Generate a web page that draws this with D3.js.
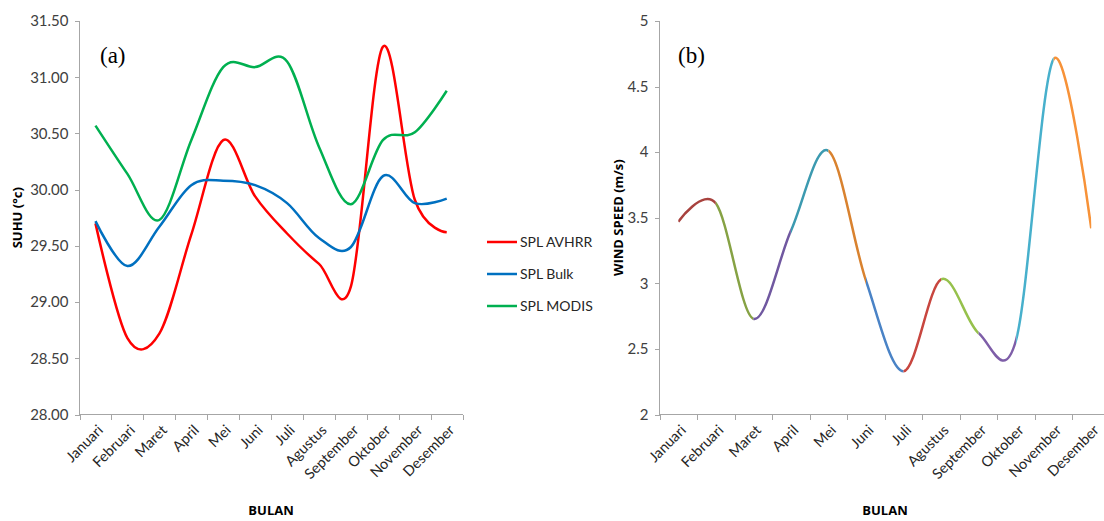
<!DOCTYPE html>
<html>
<head>
<meta charset="utf-8">
<script src="https://cdn.jsdelivr.net/npm/d3@7"></script>
<style>
    body { margin: 0; background: #fff; }
    svg { display: block; }
    .axis path, .axis line { stroke: #a6a6a6; stroke-width: 1px; shape-rendering: crispEdges; }
    .tick-label { font-family: Lato, "Open Sans", sans-serif; font-size: 15px; fill: #404040; }
    .cat-label { font-family: Lato, "Open Sans", sans-serif; font-size: 14.5px; fill: #262626; }
    .axis-title { font-family: "Open Sans", Lato, sans-serif; font-size: 13px; font-weight: bold; fill: #000; }
    .panel-label { font-family: "Liberation Serif", "DejaVu Serif", serif; font-size: 23px; fill: #000; }
    .legend-label { font-family: Lato, "Open Sans", sans-serif; font-size: 14px; fill: #262626; }
</style>
</head>
<body>
<div id="chart"></div>
<script>
// ---- data ----
var months = ["Januari", "Februari", "Maret", "April", "Mei", "Juni", "Juli",
    "Agustus", "September", "Oktober", "November", "Desember"];

var splAvhrr = [29.70, 28.68, 28.72, 29.60, 30.44, 29.94, 29.61, 29.34, 29.14, 31.27, 29.91, 29.62];
var splBulk  = [29.72, 29.32, 29.67, 30.04, 30.08, 30.04, 29.88, 29.57, 29.49, 30.12, 29.88, 29.92];
var splModis = [30.57, 30.14, 29.73, 30.44, 31.09, 31.09, 31.14, 30.38, 29.87, 30.44, 30.51, 30.88];

var windSpeed = [3.47, 3.61, 2.73, 3.40, 4.01, 3.02, 2.33, 3.03, 2.62, 2.57, 4.71, 3.42];

var suhuTicks = [28.0, 28.5, 29.0, 29.5, 30.0, 30.5, 31.0, 31.5];
var windTicks = [2, 2.5, 3, 3.5, 4, 4.5, 5];

var seriesNames = ["SPL AVHRR", "SPL Bulk", "SPL MODIS"];
var seriesColors = ["#ff0000", "#0070c0", "#00b050"];
// excel "vary colours by point" segment colours
var segmentColors = ["#a8423e", "#86a244", "#7058a0", "#3c9ab0", "#d9822f", "#4a83c6",
    "#c8463f", "#96c14c", "#7e5ea8", "#47b0cc", "#f79238"];

var svg = d3.select("#chart").append("svg")
    .attr("width", 1104)
    .attr("height", 521);

var smooth = d3.curveCardinal.tension(0);

/*
 * Shared axis drawing: y axis with labels, x axis with boundary ticks and
 * rotated month names
 */
function drawAxes(g, x, y, yTicks, yFormat, top, bottom) {
    var left = x.range()[0], right = x.range()[1];

    var yAxis = d3.axisLeft(y)
        .tickValues(yTicks)
        .tickSize(5)
        .tickPadding(6)
        .tickFormat(yFormat);

    g.append("g")
        .attr("class", "y-axis axis")
        .attr("transform", "translate(" + left + ",0)")
        .call(yAxis)
        .call(function (s) {
            s.select(".domain").attr("d", "M0," + top + "V" + bottom);
            s.selectAll("text").attr("class", "tick-label");
        });

    // boundary ticks between months
    var bounds = d3.scaleLinear().domain([0, months.length]).range([left, right]);
    var xAxis = d3.axisBottom(bounds)
        .tickValues(d3.range(0, months.length + 1))
        .tickSize(5)
        .tickFormat("");

    g.append("g")
        .attr("class", "x-axis axis")
        .attr("transform", "translate(0," + bottom + ")")
        .call(xAxis)
        .call(function (s) {
            s.select(".domain").attr("d", "M" + left + ",0H" + right);
        });

    g.append("g")
        .attr("class", "cat-labels")
        .selectAll("text")
        .data(months)
        .enter()
        .append("text")
        .attr("class", "cat-label")
        .attr("text-anchor", "end")
        .attr("transform", function (d) {
            var cx = x(d) + x.bandwidth() / 2 + 5;
            return "translate(" + cx + "," + (bottom + 13) + ") rotate(-45)";
        })
        .attr("dy", "0.35em")
        .text(function (d) { return d; });
}

/*
 * Chart (a): sea surface temperature
 */
function drawSuhu() {
    var top = 21, bottom = 414.5;
    var g = svg.append("g");

    var x = d3.scaleBand().domain(months).range([79.5, 462.7]).padding(0);
    var y = d3.scaleLinear().domain([28, 31.5]).range([bottom, top]);

    drawAxes(g, x, y, suhuTicks, d3.format(".2f"), top, bottom);

    var line = d3.line()
        .x(function (d, i) { return x(months[i]) + x.bandwidth() / 2; })
        .y(function (d) { return y(d); })
        .curve(smooth);

    [splAvhrr, splBulk, splModis].forEach(function (s, i) {
        g.append("path")
            .datum(s)
            .attr("fill", "none")
            .attr("stroke", seriesColors[i])
            .attr("stroke-width", 2.5)
            .attr("stroke-linejoin", "round")
            .attr("d", line);
    });

    g.append("text")
        .attr("class", "panel-label")
        .attr("x", 100)
        .attr("y", 63)
        .text("(a)");

    g.append("text")
        .attr("class", "axis-title")
        .attr("transform", "translate(22," + ((top + bottom) / 2) + ") rotate(-90)")
        .attr("text-anchor", "middle")
        .text("SUHU (°c)");

    g.append("text")
        .attr("class", "axis-title")
        .attr("x", (79.5 + 462.7) / 2)
        .attr("y", 515)
        .attr("text-anchor", "middle")
        .text("BULAN");

    // legend
    var legend = g.selectAll(".legend")
        .data(seriesNames)
        .enter()
        .append("g")
        .attr("class", "legend")
        .attr("transform", function (d, i) { return "translate(487," + (242 + i * 32) + ")"; });

    legend.append("line")
        .attr("x1", 0).attr("x2", 30)
        .attr("stroke", function (d, i) { return seriesColors[i]; })
        .attr("stroke-width", 2.5);

    legend.append("text")
        .attr("class", "legend-label")
        .attr("x", 33)
        .attr("dy", "0.35em")
        .text(function (d) { return d; });
}

/*
 * Chart (b): wind speed, one colour per segment
 */
function drawWind() {
    var top = 21, bottom = 414.5;
    var g = svg.append("g");

    var x = d3.scaleBand().domain(months).range([659.5, 1110]).padding(0);
    var y = d3.scaleLinear().domain([2, 5]).range([bottom, top]);

    drawAxes(g, x, y, windTicks, d3.format("~g"), top, bottom);

    var cx = function (i) { return x(months[i]) + x.bandwidth() / 2; };

    var line = d3.line()
        .x(function (d, i) { return cx(i); })
        .y(function (d) { return y(d); })
        .curve(smooth);

    var defs = svg.append("defs");
    d3.range(windSpeed.length - 1).forEach(function (i) {
        defs.append("clipPath")
            .attr("id", "seg-" + i)
            .append("rect")
            .attr("x", cx(i))
            .attr("y", 0)
            .attr("width", cx(i + 1) - cx(i))
            .attr("height", 521);

        g.append("path")
            .datum(windSpeed)
            .attr("clip-path", "url(#seg-" + i + ")")
            .attr("fill", "none")
            .attr("stroke", segmentColors[i])
            .attr("stroke-width", 2.5)
            .attr("d", line);
    });

    g.append("text")
        .attr("class", "panel-label")
        .attr("x", 678)
        .attr("y", 63)
        .text("(b)");

    g.append("text")
        .attr("class", "axis-title")
        .attr("transform", "translate(623," + ((top + bottom) / 2) + ") rotate(-90)")
        .attr("text-anchor", "middle")
        .text("WIND SPEED (m/s)");

    g.append("text")
        .attr("class", "axis-title")
        .attr("x", 885)
        .attr("y", 515)
        .attr("text-anchor", "middle")
        .text("BULAN");
}

drawSuhu();
drawWind();
</script>
</body>
</html>
